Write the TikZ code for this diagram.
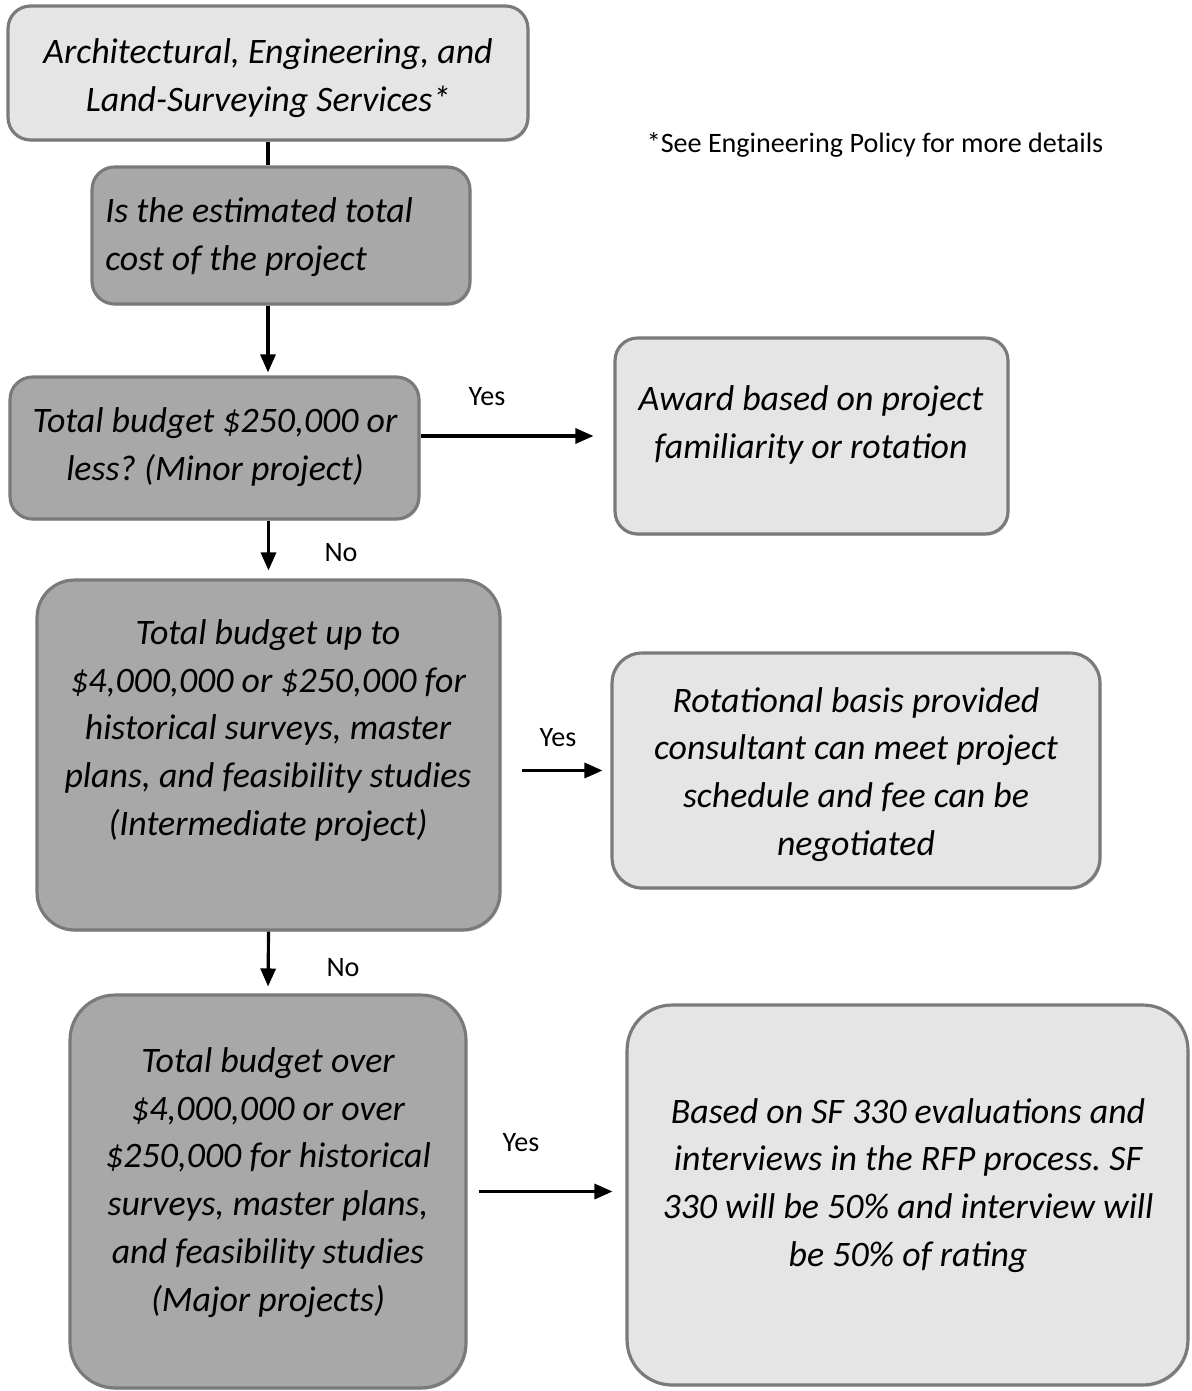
\documentclass[tikz,border=0pt]{standalone}
\usepackage{fontspec}
\setmainfont{Carlito}
\usetikzlibrary{arrows.meta,shadows}
\frenchspacing
\begin{document}
\begin{tikzpicture}[x=0.02cm,y=-0.02cm,
lightbox/.style ={rectangle, draw=black!52, line width=1.8pt, fill=black!10,
  rounded corners=0.45cm,
  drop shadow={shadow xshift=0.8pt, shadow yshift=-1pt, opacity=0.35}
},
darkbox/.style ={lightbox, fill=black!34},
boxtext/.style ={align=center, inner sep=0pt,
  font=\fontsize{20.4}{27.2}\selectfont\itshape},
lbl/.style ={font=\fontsize{16}{19}\selectfont},
arr/.style ={-{Triangle[length=0.36cm,width=0.3cm]}, line width=1.8pt}
]
\useasboundingbox (0,0) rectangle (1191,1391);
% boxes
\node[lightbox, minimum width=10.4cm, minimum height=2.68cm] (b1) at (268,73) {};
\node[boxtext] (t1) at (268,78) {Architectural, Engineering, and\\Land-Surveying Services*};
\node[darkbox, minimum width=7.56cm, minimum height=2.74cm] (b2) at (281,235.5) {};
\node[boxtext, align=left, anchor=west] (t2) at (105,237) {Is the estimated total\\cost of the project};
\node[darkbox, minimum width=8.18cm, minimum height=2.84cm] (b3) at (214.5,448) {};
\node[boxtext] (t3) at (215,447) {Total budget \$250,000 or\\less? (Minor project)};
\node[lightbox, minimum width=7.86cm, minimum height=3.92cm] (b4) at (811.5,436) {};
\node[boxtext] (t4) at (811,425) {Award based on project\\familiarity or rotation};
\node[darkbox, rounded corners=0.75cm, minimum width=9.26cm, minimum height=7cm] (b5) at (268.5,755) {};
\node[boxtext] (t5) at (268,730.5) {Total budget up to\\\$4,000,000 or \$250,000 for\\historical surveys, master\\plans, and feasibility studies\\(Intermediate project)};
\node[lightbox, rounded corners=0.6cm, minimum width=9.76cm, minimum height=4.7cm] (b6) at (856,770.5) {};
\node[boxtext] (t6) at (856,774.5) {Rotational basis provided\\consultant can meet project\\schedule and fee can be\\negotiated};
\node[darkbox, rounded corners=0.9cm, minimum width=7.92cm, minimum height=7.86cm] (b7) at (268,1191.5) {};
\node[boxtext] (t7) at (268,1182.5) {Total budget over\\\$4,000,000 or over\\\$250,000 for historical\\surveys, master plans,\\and feasibility studies\\(Major projects)};
\node[lightbox, rounded corners=0.9cm, minimum width=11.22cm, minimum height=7.6cm] (b8) at (907.5,1195) {};
\node[boxtext] (t8) at (908,1185.5) {Based on SF 330 evaluations and\\interviews in the RFP process. SF\\330 will be 50\% and interview will\\be 50\% of rating};
% labels
\node[lbl] (n0) at (875,145) {*See Engineering Policy for more details};
\node[lbl] (y1) at (487,397) {Yes};
\node[lbl] (n1) at (341,553) {No};
\node[lbl] (y2) at (558,738) {Yes};
\node[lbl] (n2) at (343,968) {No};
\node[lbl] (y3) at (521,1143) {Yes};
% connectors
\draw[line width=1.8pt] (b1.south) -- (b1.south |- b2.north);
\draw[arr, shorten >=0.06cm] (b1.south |- b2.south) -- (b1.south |- b3.north);
\draw[arr, shorten >=0.4cm] (b3.east |- b4.west) -- (b4.west);
\draw[arr, shorten >=0.16cm] (b5.north |- b3.south) -- (b5.north);
\draw[arr, shorten <=0.4cm, shorten >=0.16cm] (b5.east |- b6.west) -- (b6.west);
\draw[arr, shorten >=0.14cm] (b5.south) -- (b7.north);
\draw[arr, shorten <=0.22cm, shorten >=0.26cm] (b7.east) -- (b7.east -| b8.west);
\end{tikzpicture}
\end{document}
